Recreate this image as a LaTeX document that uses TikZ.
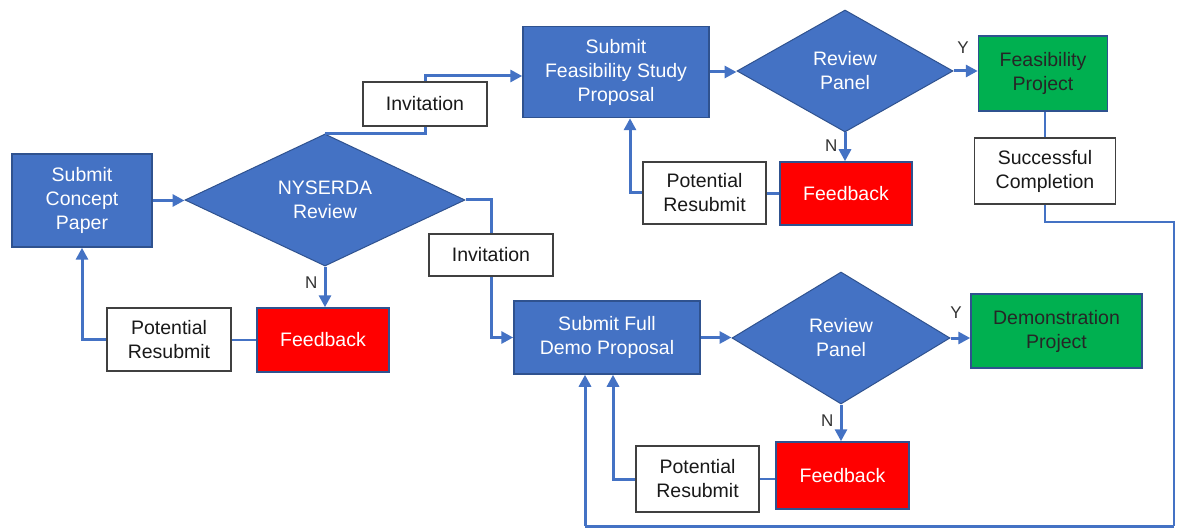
\documentclass[tikz,border=0pt]{standalone}
\usepackage{fontspec}
\setmainfont{Liberation Sans}
\usetikzlibrary{shapes.geometric,arrows.meta,calc}
\definecolor{bluef}{HTML}{4472C4}
\definecolor{blueb}{HTML}{2F528F}
\definecolor{redf}{HTML}{FF0000}
\definecolor{greenf}{HTML}{00B050}
\definecolor{grayb}{HTML}{404040}
\tikzset{
  every node/.style={font=\fontsize{19.5}{24}\selectfont, align=center, inner sep=0pt},
  bluebox/.style={rectangle, draw=blueb, line width=1.5pt, fill=bluef, text=white},
  redbox/.style={rectangle, draw=blueb, line width=1.5pt, fill=redf, text=white},
  greenbox/.style={rectangle, draw=blueb, line width=1.5pt, fill=greenf, text=black!85},
  whitebox/.style={rectangle, draw=grayb, line width=1.5pt, fill=white, text=black!90},
  dia/.style={diamond, draw=blueb, line width=1pt, fill=bluef, text=white},
  conn/.style={draw=bluef, line width=3pt},
  arr/.style={conn, -{Triangle[length=12pt,width=12pt]}},
  thin/.style={draw=bluef, line width=1.5pt},
  yn/.style={font=\fontsize{17}{20}\selectfont, text=black!80}
}
\begin{document}
\begin{tikzpicture}[x=1pt,y=-1pt]
\useasboundingbox[fill=white] (0,0) rectangle (1177,529);
% nodes
\node[bluebox, minimum width=140pt, minimum height=93pt] (cp) at (82,200.5) {Submit\\Concept\\Paper};
\node[dia, minimum width=280pt, minimum height=124pt] (nys) at (325,200) {NYSERDA\\Review};
\node[redbox, minimum width=132pt, minimum height=64pt] (fb1) at (323,340) {Feedback};
\node[whitebox, minimum width=124pt, minimum height=63pt] (pr1) at (169,339.5) {Potential\\Resubmit};
\node[whitebox, minimum width=124pt, minimum height=44pt] (inv1) at (425,104) {Invitation};
\node[bluebox, minimum width=186pt, minimum height=91pt] (fs) at (616,72) {Submit\\Feasibility Study\\Proposal};
\node[dia, minimum width=216pt, minimum height=122pt] (rp1) at (845,71) {Review\\Panel};
\node[greenbox, minimum width=129pt, minimum height=75pt] (fp) at (1043,73.5) {Feasibility\\Project};
\node[redbox, minimum width=132pt, minimum height=63pt] (fb2) at (846,193.5) {Feedback};
\node[whitebox, minimum width=123pt, minimum height=62pt] (pr2) at (704.5,193) {Potential\\Resubmit};
\node[whitebox, minimum width=141pt, minimum height=66pt] (sc) at (1045,171) {Successful\\Completion};
\node[whitebox, minimum width=124pt, minimum height=42pt] (inv2) at (491,255) {Invitation};
\node[bluebox, minimum width=186pt, minimum height=73pt] (dp) at (607,337.5) {Submit Full\\Demo Proposal};
\node[dia, minimum width=218pt, minimum height=132pt] (rp2) at (841,338) {Review\\Panel};
\node[greenbox, minimum width=171pt, minimum height=74pt] (dem) at (1056.5,331) {Demonstration\\Project};
\node[redbox, minimum width=133pt, minimum height=67pt] (fb3) at (842.5,475.5) {Feedback};
\node[whitebox, minimum width=123pt, minimum height=66pt] (pr3) at (697.5,479) {Potential\\Resubmit};
% coordinates for free path corners
\coordinate (rtop) at (1174,222);
\coordinate (rbot) at (1174,526);
\coordinate (lbot) at (585,526);
% connectors
\draw[arr] (cp.east) -- (cp.east -| nys.west);
\draw[arr] (nys.south) -- node[yn, left=6pt, pos=0.4] (n1) {N} (nys.south |- fb1.north);
\draw[conn, line width=2.5pt] (fb1.west) -- (fb1.west -| pr1.east);
\draw[arr] (pr1.west) -| (cp.south);
\draw[conn] (nys.north) -| (inv1.south);
\draw[arr] (inv1.north) |- ([yshift=-4pt]fs.west);
\draw[arr] (fs.east) -- (fs.east -| rp1.west);
\draw[arr] (rp1.east) -- (rp1.east -| fp.west);
\node[yn] (y1) at (963,48) {Y};
\draw[arr] (rp1.south) -- node[yn, left=6pt, pos=0.45] (n2) {N} (rp1.south |- fb2.north);
\draw[conn, line width=2.5pt] (fb2.west) -- (fb2.west -| pr2.east);
\draw[arr] (pr2.west) -| ([xshift=14pt]fs.south);
\draw[thin] (sc.north) -- (sc.north |- fp.south);
\draw[thin] (sc.south) |- (rtop) -- (rbot);
\draw[draw=bluef, line width=3pt] (rbot) -- (lbot);
\draw[arr] (lbot) -- ([xshift=-22pt]dp.south);
\draw[conn] (nys.east) -| (inv2.north);
\draw[arr] (inv2.south) |- (dp.west);
\draw[arr] (dp.east) -- (dp.east -| rp2.west);
\draw[arr] (rp2.east) -- (rp2.east -| dem.west);
\node[yn] (y2) at (956,313) {Y};
\draw[arr] (rp2.south) -- node[yn, left=6pt, pos=0.45] (n3) {N} (rp2.south |- fb3.north);
\draw[conn, line width=2.5pt] (pr3.east) -- (pr3.east -| fb3.west);
\draw[arr] (pr3.west) -| ([xshift=6pt]dp.south);
\end{tikzpicture}
\end{document}
